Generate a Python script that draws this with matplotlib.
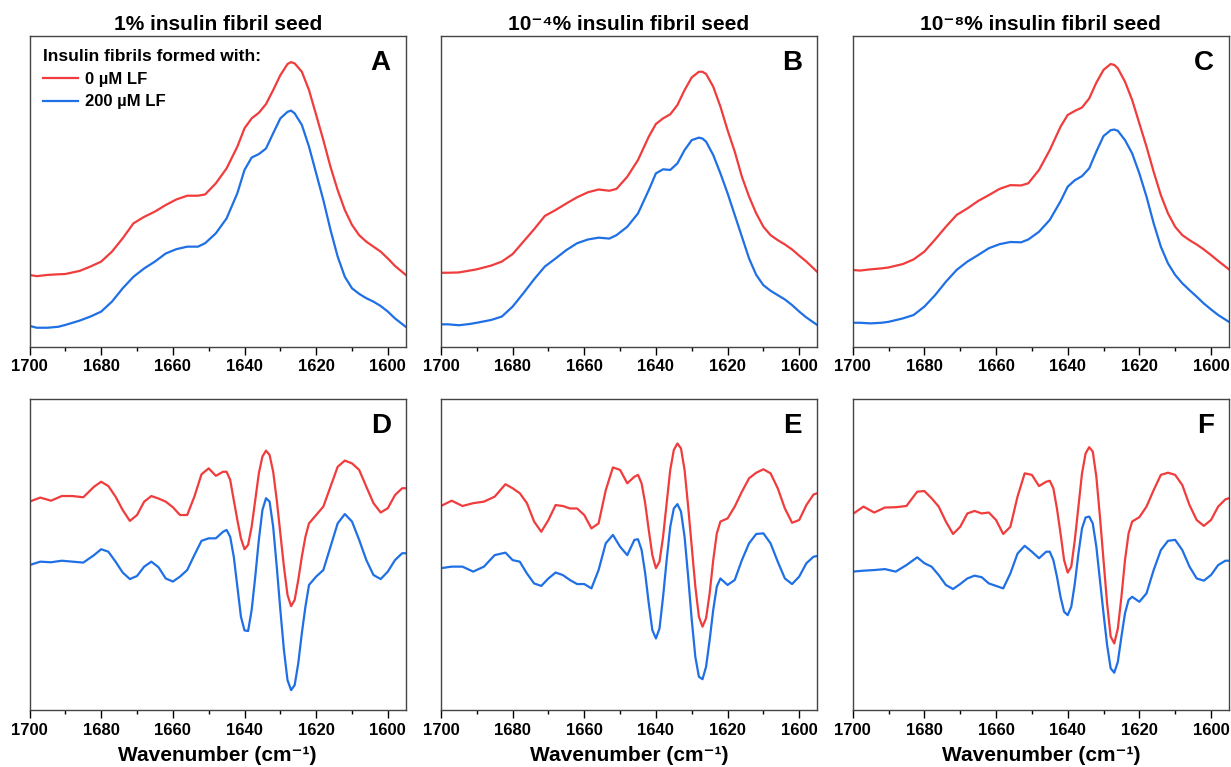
import matplotlib.pyplot as plt

plt.rcParams['font.family'] = ['Liberation Sans', 'DejaVu Sans']
plt.rcParams['font.weight'] = 'bold'

# wavenumber grids (cm-1)
wn_abs = [1700, 1698, 1695, 1692, 1690, 1686, 1683, 1680, 1677, 1674, 1671, 1668,
          1665, 1662, 1659, 1656, 1653, 1651, 1648, 1645, 1642, 1640, 1638, 1636,
          1634, 1632, 1630, 1628, 1627, 1626, 1624, 1622, 1620, 1618, 1616, 1614,
          1612, 1610, 1608, 1606, 1604, 1602, 1600, 1598, 1595]

wn_d2 = [1700, 1697, 1694, 1691, 1688, 1685, 1682, 1680, 1678, 1676, 1674, 1672,
         1670, 1668, 1666, 1664, 1662, 1660, 1658, 1656, 1654, 1652, 1650, 1648,
         1646, 1645, 1644, 1643, 1642, 1641, 1640, 1639, 1638, 1637, 1636, 1635,
         1634, 1633, 1632, 1631, 1630, 1629, 1628, 1627, 1626, 1625, 1624, 1623,
         1622, 1620, 1618, 1616, 1614, 1612, 1610, 1608, 1606, 1604, 1602, 1600,
         1598, 1596, 1595]

# absorbance (a.u., offset) - 1% seed
a_0lf = [23.1, 22.7, 23.1, 23.3, 23.4, 24.4, 25.8, 27.4, 30.6, 34.9, 39.7, 41.8,
         43.5, 45.6, 47.4, 48.6, 48.6, 49.0, 52.6, 57.4, 64.4, 70.3, 73.5, 75.3,
         78.1, 82.6, 87.4, 91.0, 91.6, 91.2, 88.5, 82.6, 74.6, 66.5, 57.9, 50.4,
         44.0, 39.2, 35.9, 33.8, 32.2, 30.6, 28.4, 26.0, 23.1]
a_200lf = [6.7, 6.1, 6.1, 6.4, 7.0, 8.4, 9.7, 11.3, 14.5, 18.8, 22.5, 25.2,
           27.4, 30.0, 31.4, 32.2, 32.2, 33.3, 36.5, 41.3, 49.4, 56.9, 60.9, 62.0,
           63.8, 68.7, 73.5, 75.6, 76.0, 75.1, 71.4, 64.4, 55.8, 47.2, 37.6, 29.0,
           22.5, 18.8, 17.0, 15.6, 14.5, 13.1, 11.3, 9.1, 6.4]
# 10^-4 % seed
b_0lf = [23.8, 23.8, 23.9, 24.5, 24.9, 26.1, 27.4, 29.8, 33.8, 37.8, 42.1, 44.0,
         46.1, 48.1, 49.7, 50.6, 50.2, 50.8, 54.7, 60.1, 67.6, 71.7, 73.5, 74.8,
         77.8, 82.6, 86.7, 88.5, 88.5, 87.8, 83.7, 77.3, 69.7, 62.8, 54.7, 48.3,
         42.9, 38.6, 35.9, 34.3, 32.9, 31.3, 29.3, 27.4, 24.1]
b_200lf = [7.2, 7.2, 6.9, 7.3, 7.7, 8.6, 9.7, 12.9, 17.2, 21.7, 25.8, 28.4,
           31.1, 33.3, 34.5, 35.1, 34.8, 35.9, 38.6, 42.9, 50.4, 55.8, 57.1, 56.9,
           59.0, 63.3, 66.5, 67.3, 67.0, 66.0, 61.7, 55.8, 49.4, 42.4, 35.4, 28.4,
           23.1, 19.8, 18.0, 16.6, 15.2, 13.4, 11.3, 9.4, 7.0]
# 10^-8 % seed
c_0lf = [24.7, 24.5, 24.9, 25.2, 25.5, 26.6, 28.1, 30.6, 34.5, 38.6, 42.4, 44.5,
         46.9, 48.8, 50.8, 52.0, 51.9, 52.6, 56.9, 63.3, 70.8, 74.6, 75.9, 77.0,
         79.9, 85.0, 89.1, 91.0, 90.7, 89.6, 85.3, 79.4, 71.9, 64.4, 56.3, 48.8,
         42.9, 38.6, 35.9, 34.3, 32.9, 31.3, 29.5, 27.6, 24.9]
c_200lf = [7.7, 7.7, 7.5, 7.7, 8.0, 9.1, 10.2, 12.9, 16.6, 20.9, 24.7, 27.4,
           29.5, 31.7, 33.0, 33.7, 33.6, 34.5, 37.0, 40.8, 46.8, 51.5, 53.6, 54.9,
           57.4, 62.8, 67.8, 69.7, 69.9, 69.5, 66.5, 62.2, 55.8, 48.3, 39.7, 32.2,
           26.8, 23.1, 20.4, 18.2, 16.1, 13.9, 12.0, 10.2, 8.0]

# second derivative (a.u., offset)
d_0lf = [67.0, 68.3, 67.3, 68.8, 68.8, 68.4, 71.8, 73.4, 72.0, 68.6, 64.3, 60.8,
         62.7, 67.0, 68.8, 68.0, 67.0, 65.2, 62.7, 62.7, 68.6, 75.8, 77.7, 75.3,
         76.6, 76.6, 74.0, 67.5, 61.1, 55.2, 51.7, 53.1, 59.0, 67.5, 76.1, 81.5,
         83.4, 82.0, 76.6, 67.5, 56.8, 46.1, 37.0, 33.4, 35.4, 41.8, 49.3, 55.7,
         60.0, 62.7, 65.4, 71.8, 78.2, 80.2, 79.3, 77.2, 71.8, 66.5, 63.5, 64.9,
         69.1, 71.3, 71.3]
d_200lf = [46.6, 47.7, 47.5, 48.0, 47.7, 47.4, 49.8, 51.7, 50.9, 47.7, 44.2, 42.1,
           43.1, 46.1, 47.7, 45.9, 42.3, 41.3, 42.9, 45.0, 49.8, 54.4, 55.2, 55.2,
           57.3, 57.9, 55.7, 49.3, 39.7, 30.0, 25.6, 25.4, 32.2, 42.9, 54.7, 64.3,
           68.1, 67.0, 58.9, 46.1, 32.2, 19.3, 9.6, 6.4, 8.0, 15.0, 24.7, 33.2,
           40.2, 42.9, 45.0, 52.5, 60.0, 63.0, 60.6, 54.7, 48.2, 43.4, 42.1, 44.5,
           48.2, 50.4, 50.4]
e_0lf = [65.6, 67.3, 65.6, 66.5, 67.0, 68.6, 72.6, 71.3, 69.7, 66.5, 60.6, 57.3,
         61.1, 65.9, 65.6, 64.8, 64.8, 62.7, 58.4, 60.0, 70.7, 78.0, 77.2, 72.9,
         75.0, 75.6, 72.9, 66.5, 57.9, 49.8, 45.6, 47.7, 55.7, 66.5, 77.2, 83.6,
         85.7, 84.1, 77.2, 65.4, 52.5, 39.7, 30.0, 26.8, 29.5, 37.5, 48.2, 56.8,
         60.6, 61.6, 65.4, 70.2, 74.5, 76.3, 77.4, 76.1, 71.3, 64.8, 60.2, 61.1,
         65.9, 69.3, 69.7]
e_200lf = [45.6, 46.1, 46.1, 44.5, 46.1, 49.8, 50.6, 48.2, 47.7, 43.9, 40.7, 39.9,
           42.3, 44.2, 43.4, 41.8, 40.5, 40.5, 39.1, 45.0, 53.6, 56.3, 52.5, 49.8,
           54.7, 54.9, 51.5, 44.0, 34.3, 25.7, 23.0, 26.2, 36.4, 48.2, 58.9, 64.8,
           66.2, 63.8, 55.7, 42.9, 29.0, 17.1, 10.7, 9.9, 13.9, 22.5, 32.2, 39.7,
           42.3, 40.2, 41.8, 48.2, 53.6, 56.6, 56.8, 53.6, 47.7, 42.3, 40.5, 42.9,
           47.2, 49.3, 49.5]
f_0lf = [63.0, 65.4, 63.5, 65.1, 65.2, 65.6, 70.2, 70.4, 68.1, 65.4, 60.6, 56.6,
         58.9, 63.2, 64.0, 63.2, 63.5, 61.1, 56.6, 58.9, 68.6, 76.1, 75.6, 72.0,
         73.4, 73.7, 71.3, 64.8, 56.8, 48.2, 44.2, 46.1, 54.7, 65.4, 76.1, 82.5,
         84.5, 83.1, 75.0, 62.2, 48.2, 34.3, 23.6, 21.4, 26.2, 36.4, 48.2, 56.8,
         60.6, 62.0, 65.4, 70.7, 75.6, 76.3, 75.6, 72.3, 65.9, 61.1, 59.2, 61.1,
         65.4, 67.7, 68.1]
f_200lf = [44.5, 44.8, 45.0, 45.3, 44.5, 46.6, 49.1, 47.2, 46.1, 43.4, 40.2, 38.9,
           40.5, 42.3, 43.2, 42.7, 40.7, 39.9, 39.1, 43.9, 50.3, 52.8, 50.9, 48.8,
           50.9, 50.9, 48.2, 42.9, 36.4, 31.6, 30.5, 33.2, 40.7, 50.3, 58.4, 61.9,
           62.2, 60.0, 52.5, 41.8, 31.1, 20.9, 13.4, 12.0, 15.5, 23.6, 31.1, 35.4,
           36.4, 34.8, 37.5, 45.0, 51.4, 54.4, 54.7, 51.4, 46.1, 42.3, 41.6, 43.4,
           46.6, 48.0, 48.0]

titles = ['1% insulin fibril seed', '10⁻⁴% insulin fibril seed', '10⁻⁸% insulin fibril seed']
letters = ['A', 'B', 'C', 'D', 'E', 'F']
top_data = [(a_0lf, a_200lf), (b_0lf, b_200lf), (c_0lf, c_200lf)]
bot_data = [(d_0lf, d_200lf), (e_0lf, e_200lf), (f_0lf, f_200lf)]

red = '#f03c3c'
blue = '#1f6fe5'

fig = plt.figure(figsize=(12.31, 7.67), dpi=100)
lefts = [0.024, 0.3582, 0.6927]
w = 0.3056

for i in range(3):
    for row in range(2):
        if row == 0:
            ax = fig.add_axes([lefts[i], 0.548, w, 0.405])
            wn, (r, b) = wn_abs, top_data[i]
        else:
            ax = fig.add_axes([lefts[i], 0.0743, w, 0.4055])
            wn, (r, b) = wn_d2, bot_data[i]
        ax.plot(wn, r, color=red, lw=1.6, solid_joinstyle='round', label='0 µM LF')
        ax.plot(wn, b, color=blue, lw=1.6, solid_joinstyle='round', label='200 µM LF')
        ax.set_xlim(1700, 1595)
        ax.set_ylim(0, 100)
        ax.set_yticks([])
        ax.set_xticks([1700, 1680, 1660, 1640, 1620, 1600])
        ax.set_xticks([1690, 1670, 1650, 1630, 1610], minor=True)
        ax.tick_params(axis='x', which='major', length=6, width=1, labelsize=12, pad=3)
        ax.tick_params(axis='x', which='minor', length=3, width=1)
        for lab in ax.get_xticklabels():
            lab.set_fontweight('bold')
        for s in ax.spines.values():
            s.set_color('#444444')
            s.set_linewidth(1)
        ax.text(0.96, 0.955, letters[row * 3 + i], transform=ax.transAxes,
                ha='right', va='top', fontsize=20, fontweight='bold')
        if row == 0:
            ax.set_title(titles[i], fontsize=15, fontweight='bold', pad=4)
        else:
            ax.set_xlabel('Wavenumber (cm⁻¹)', fontsize=15, fontweight='bold', labelpad=6)
        if row == 0 and i == 0:
            leg = ax.legend(title='Insulin fibrils formed with:', loc='upper left',
                            frameon=False, fontsize=12, title_fontsize=12.5,
                            handlelength=2.1, handletextpad=0.4, labelspacing=0.45,
                            borderaxespad=0.4, alignment='left')
            leg.get_title().set_fontweight('bold')
            for t in leg.get_texts():
                t.set_fontweight('bold')

fig.savefig('out.png', dpi=100)
